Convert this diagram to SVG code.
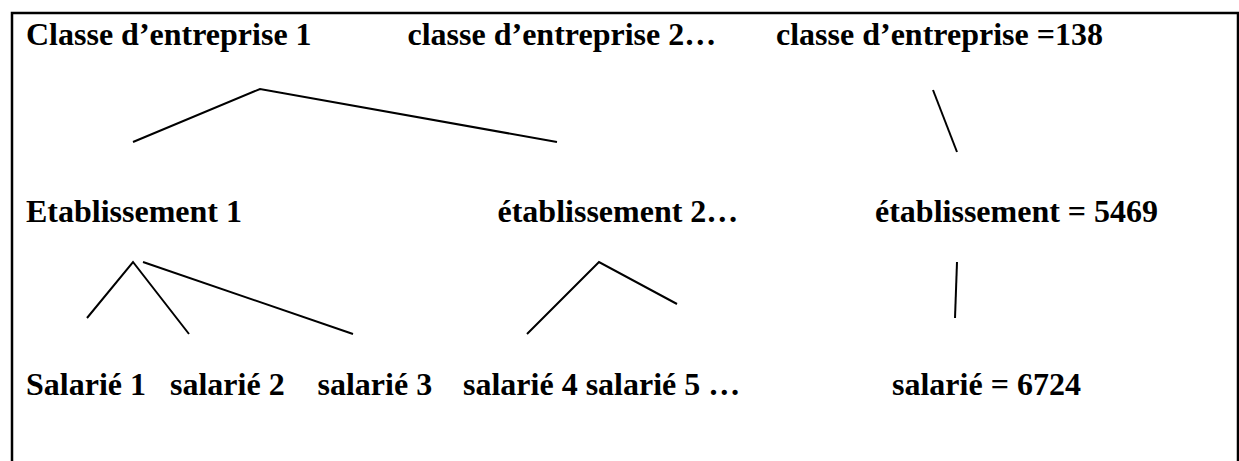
<svg xmlns="http://www.w3.org/2000/svg" width="1239" height="461" viewBox="0 0 1239 461">
<style>
text{font-family:'Liberation Serif',serif;font-weight:700;font-size:32px;fill:#000}
.c line,.c polyline{stroke:#000;stroke-width:2;fill:none}
</style>
<rect width="1239" height="461" fill="#fff"/>
<path d="M12,461 V13 H1238 V461" fill="none" stroke="#000" stroke-width="2.5"/>
<g id="classe1"><text x="26" y="45">Classe d’entreprise 1</text></g>
<g id="classe2"><text x="407.5" y="45">classe d’entreprise 2…</text></g>
<g id="classe138"><text x="776" y="45">classe d’entreprise =138</text></g>
<g id="etab1"><text x="26" y="222">Etablissement 1</text></g>
<g id="etab2"><text x="497.5" y="222">établissement 2…</text></g>
<g id="etab5469"><text x="875" y="222">établissement = 5469</text></g>
<g id="sal1"><text x="26" y="395">Salarié 1</text></g>
<g id="sal2"><text x="170" y="395">salarié 2</text></g>
<g id="sal3"><text x="317.5" y="395">salarié 3</text></g>
<g id="sal45"><text x="463" y="395">salarié 4 salarié 5 …</text></g>
<g id="sal6724"><text x="892" y="395">salarié = 6724</text></g>
<g id="connectors" class="c">
<polyline points="133,142 260,89 557,142"/>
<line x1="933" y1="90" x2="957" y2="152"/>
<polyline points="87,318 133,262 189,334"/>
<line x1="143" y1="262" x2="353" y2="334"/>
<polyline points="527,334 599,262 677,304"/>
<line x1="957" y1="262" x2="955" y2="318"/>
</g>
</svg>
